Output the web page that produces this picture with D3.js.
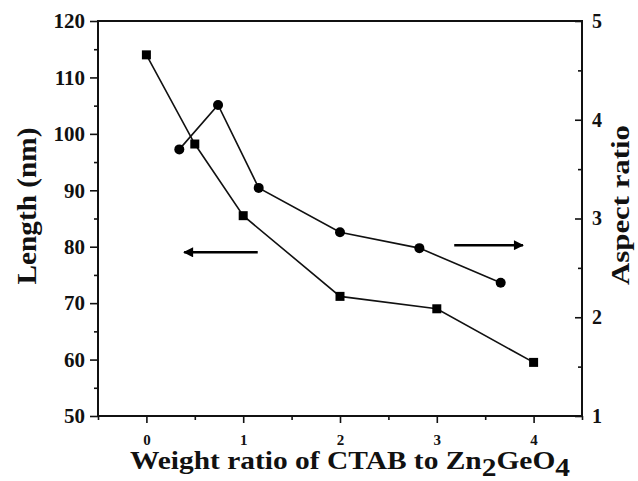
<!DOCTYPE html>
<html><head><meta charset="utf-8">
<script src="https://cdn.jsdelivr.net/npm/d3@7"></script>
<style>body{margin:0;background:#fff}svg{display:block}</style>
</head><body>
<svg id="c" width="638" height="481"></svg>
<script>
// Data
const lengthX = [0, 0.5, 1, 2, 3, 4];
const lengthY = [114, 98.2, 85.5, 71.2, 69.0, 59.5];
const aspectX = [0.34, 0.74, 1.16, 2, 2.82, 3.66];
const aspectY = [3.70, 4.15, 3.31, 2.86, 2.70, 2.35];
const xTicks = [0, 1, 2, 3, 4];
const xMinor = [-0.5, 0.5, 1.5, 2.5, 3.5, 4.5];
const leftTicks = [50, 60, 70, 80, 90, 100, 110, 120];
const leftMinor = [55, 65, 75, 85, 95, 105, 115];
const rightTicks = [1, 2, 3, 4, 5];
const rightMinor = [1.5, 2.5, 3.5, 4.5];

const svg = d3.select("#c");
const L = 98, R = 582, T = 21, B = 416;
const x = d3.scaleLinear().domain([-0.5, 4.5]).range([L, R]);
const yL = d3.scaleLinear().domain([50, 120]).range([B, T]);
const yR = d3.scaleLinear().domain([1, 5]).range([B, T]);
const font = "'Liberation Serif','Times New Roman',serif";

function style(g, fs) {
  g.select(".domain").remove();
  g.selectAll(".tick line").attr("stroke", "#111").attr("stroke-width", 1.6);
  g.selectAll(".tick text").attr("font-family", font).attr("font-weight", "bold")
    .attr("font-size", fs).attr("fill", "#111");
}

// Left axis
const gl = svg.append("g").attr("transform", `translate(${L},0)`);
gl.call(d3.axisLeft(yL).tickValues(leftTicks).tickSize(8).tickPadding(5).tickFormat(d3.format("d")));
style(gl, 21);
const glm = svg.append("g").attr("transform", `translate(${L},0)`);
glm.call(d3.axisLeft(yL).tickValues(leftMinor).tickSize(4).tickFormat(""));
style(glm, 21);

// Bottom axis
const gb = svg.append("g").attr("transform", `translate(0,${B})`);
gb.call(d3.axisBottom(x).tickValues(xTicks).tickSize(7).tickPadding(11).tickFormat(d3.format("d")));
style(gb, 15);
const gbm = svg.append("g").attr("transform", `translate(0,${B})`);
gbm.call(d3.axisBottom(x).tickValues(xMinor).tickSize(4).tickFormat(""));
style(gbm, 15);

// Right axis (inward ticks)
const gr = svg.append("g").attr("transform", `translate(${R},0)`);
gr.call(d3.axisRight(yR).tickValues(rightTicks).tickSize(-7).tickPadding(10).tickFormat(d3.format("d")));
style(gr, 20);
const grm = svg.append("g").attr("transform", `translate(${R},0)`);
grm.call(d3.axisRight(yR).tickValues(rightMinor).tickSize(-4).tickFormat(""));
style(grm, 20);

// Frame
svg.append("rect").attr("x", L).attr("y", T).attr("width", R - L).attr("height", B - T)
  .attr("fill", "none").attr("stroke", "#111").attr("stroke-width", 2);

// Length series (squares)
const lenData = lengthX.map((d, i) => [d, lengthY[i]]);
svg.append("path").datum(lenData)
  .attr("d", d3.line().x(d => x(d[0])).y(d => yL(d[1])))
  .attr("fill", "none").attr("stroke", "#111").attr("stroke-width", 1.6);
svg.selectAll(".sq").data(lenData).enter().append("rect")
  .attr("x", d => x(d[0]) - 4.5).attr("y", d => yL(d[1]) - 4.5)
  .attr("width", 9).attr("height", 9).attr("fill", "#000");

// Aspect series (circles)
const aspData = aspectX.map((d, i) => [d, aspectY[i]]);
svg.append("path").datum(aspData)
  .attr("d", d3.line().x(d => x(d[0])).y(d => yR(d[1])))
  .attr("fill", "none").attr("stroke", "#111").attr("stroke-width", 1.6);
svg.selectAll(".ci").data(aspData).enter().append("circle")
  .attr("cx", d => x(d[0])).attr("cy", d => yR(d[1])).attr("r", 5).attr("fill", "#000");

// Arrows
const defs = svg.append("defs");
defs.append("marker").attr("id", "ah").attr("viewBox", "0 0 10 10").attr("refX", 9).attr("refY", 5)
  .attr("markerWidth", 5).attr("markerHeight", 4).attr("markerUnits", "strokeWidth").attr("orient", "auto")
  .append("path").attr("d", "M0,0 L10,5 L0,10 z").attr("fill", "#000");
svg.append("line").attr("x1", x(1.15)).attr("x2", x(0.39)).attr("y1", yL(79)).attr("y2", yL(79))
  .attr("stroke", "#000").attr("stroke-width", 2.5).attr("marker-end", "url(#ah)");
svg.append("line").attr("x1", x(3.18)).attr("x2", x(3.89)).attr("y1", yR(2.73)).attr("y2", yR(2.73))
  .attr("stroke", "#000").attr("stroke-width", 2.5).attr("marker-end", "url(#ah)");

// Titles
svg.append("text").attr("transform", "translate(36,206) rotate(-90)")
  .attr("text-anchor", "middle").attr("font-family", font).attr("font-weight", "bold")
  .attr("font-size", 27).attr("fill", "#111")
  .attr("textLength", 157).attr("lengthAdjust", "spacingAndGlyphs").text("Length (nm)");
svg.append("text").attr("transform", "translate(629,205) rotate(-90)")
  .attr("text-anchor", "middle").attr("font-family", font).attr("font-weight", "bold")
  .attr("font-size", 26).attr("fill", "#111")
  .attr("textLength", 160).attr("lengthAdjust", "spacingAndGlyphs").text("Aspect ratio");
const xt = svg.append("text").attr("x", 130).attr("y", 469)
  .attr("font-family", font).attr("font-weight", "bold").attr("font-size", 25).attr("fill", "#111")
  .attr("textLength", 440).attr("lengthAdjust", "spacingAndGlyphs");
xt.append("tspan").text("Weight ratio of CTAB to Zn");
xt.append("tspan").attr("dy", 7).text("2");
xt.append("tspan").attr("dy", -7).text("GeO");
xt.append("tspan").attr("dy", 7).text("4");
</script>
</body></html>
